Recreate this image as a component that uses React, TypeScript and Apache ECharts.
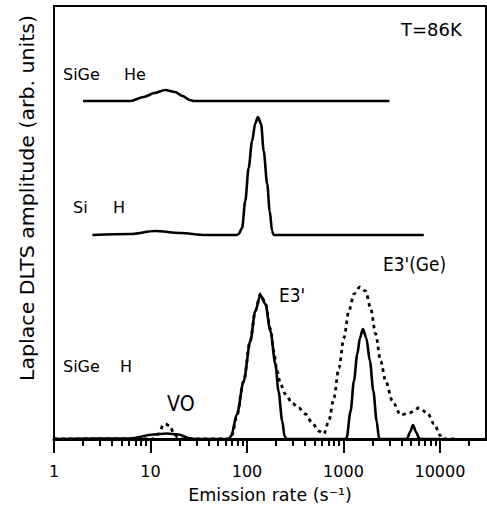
import React, { useEffect, useRef } from "react";
import * as echarts from "echarts";

// Major / minor tick positions on the log emission-rate axis
const xMajorTicks = [1, 10, 100, 1000, 10000];
const xMinorTicks = [
  2, 3, 4, 5, 6, 7, 8, 9,
  20, 30, 40, 50, 60, 70, 80, 90,
  200, 300, 400, 500, 600, 700, 800, 900,
  2000, 3000, 4000, 5000, 6000, 7000, 8000, 9000,
  20000,
];
const xMin = 1;
const xMax = 30000;

// SiGe H (solid): [emission rate, amplitude]
const sigeHSolid: [number, number][] = [
  [1, 0], [6.2, 0.5], [10.7, 4.5], [14.8, 5.5], [19.5, 4.5], [25.8, 0.5], [30, 0],
  [65, 0], [68.4, 3], [78.9, 25], [92.4, 58], [108.4, 98], [122, 128], [137.8, 144],
  [155, 135], [175, 108], [197, 75], [212, 48], [232, 18], [245, 3], [255, 0],
  [1050, 0], [1077, 1], [1186, 28], [1283, 58], [1391, 85], [1481, 101], [1590, 110],
  [1724, 101], [1880, 78], [2039, 48], [2207, 18], [2333, 1], [2400, 0],
  [4500, 0], [4594, 1], [4900, 7], [5257, 14], [5650, 7], [6070, 1], [6200, 0],
  [10000, 0],
];

// SiGe H (dotted)
const sigeHDotted: [number, number][] = [
  [1, 0], [11, 0], [12.1, 5], [13.6, 14], [14.2, 15], [16, 13], [17.3, 6], [19, 2], [21, 0],
  [66, 0], [70, 4], [78, 22], [92, 57], [108, 98], [122, 128], [137.8, 145], [155, 136],
  [175, 110], [189, 88], [205, 68], [222, 55], [250, 45], [294, 36], [344, 31], [404, 25],
  [474, 16], [555, 8], [626, 5], [705, 18], [795, 41], [896, 71], [1010, 101], [1138, 128],
  [1283, 145], [1481, 152], [1695, 148], [1910, 131], [2154, 105], [2428, 78], [2737, 58],
  [3212, 38], [3918, 24], [4777, 26], [6070, 31], [7420, 26], [8680, 15], [10190, 3],
  [10500, 0], [15000, 0],
];

// Si H (offset trace)
const siH: [number, number][] = [
  [2.5, 204], [6.2, 205], [11.2, 208], [20.3, 206], [37, 204], [78, 204], [82, 205],
  [89, 211], [96, 238], [104, 271], [113, 298], [122, 316], [130, 322], [140, 315],
  [149, 288], [162, 255], [172, 228], [182, 208], [189, 204], [6800, 204],
];

// SiGe He (offset trace)
const sigeHe: [number, number][] = [
  [2.0, 338], [6.2, 338], [8.5, 342], [11, 346], [14.2, 349], [18, 347], [21.5, 343],
  [25.5, 339], [28, 338], [3000, 338],
];

const FONT = "DejaVu Sans";

export default function App() {
  const ref = useRef<HTMLDivElement>(null);

  useEffect(() => {
    if (!ref.current) return;
    const chart = echarts.init(ref.current, undefined, { renderer: "svg" });

    const txt = (text: string, x: number, y: number, size: number, sy = 1) => ({
      type: "text",
      x,
      y,
      scaleY: sy,
      style: {
        text,
        fontFamily: FONT,
        fontSize: size,
        fill: "#000",
        textAlign: "left",
        textVerticalAlign: "middle",
      },
    });

    const lineSeries = (name: string, data: [number, number][], dotted: boolean) => ({
      name,
      type: "line",
      data,
      xAxisIndex: 0,
      yAxisIndex: 0,
      showSymbol: false,
      symbol: "none",
      smooth: 0.3,
      smoothMonotone: "x",
      lineStyle: {
        color: "#000",
        width: dotted ? 2.8 : 2.6,
        type: dotted ? [3.5, 4] : "solid",
        cap: "butt",
      },
    });

    // hidden companion axes (in decades) that only carry the tick marks
    const tickAxis = (values: number[], len: number) => ({
      type: "value",
      gridIndex: 0,
      position: "bottom",
      min: Math.log10(xMin),
      max: Math.log10(xMax),
      axisLine: { show: false },
      axisLabel: { show: false },
      splitLine: { show: false },
      axisTick: {
        show: true,
        customValues: values.map((v) => Math.log10(v)),
        length: len,
        lineStyle: { color: "#000", width: 2 },
      },
    });

    chart.setOption({
      animation: false,
      grid: {
        left: 54,
        right: 1,
        top: 6,
        bottom: 77,
        show: true,
        borderColor: "#000",
        borderWidth: 2,
        backgroundColor: "transparent",
      },
      xAxis: [
        {
          type: "log",
          logBase: 10,
          min: xMin,
          max: xMax,
          position: "bottom",
          axisLine: { show: true, lineStyle: { color: "#000", width: 3 } },
          axisTick: { show: false },
          axisLabel: {
            customValues: xMajorTicks,
            formatter: (v: number) => String(Math.round(v)),
            fontSize: 16,
            fontFamily: FONT,
            color: "#000",
            margin: 24,
          },
          splitLine: { show: false },
          minorTick: { show: false },
          minorSplitLine: { show: false },
          name: "Emission rate (s\u207B\u00B9)",
          nameLocation: "middle",
          nameGap: 47,
          nameTextStyle: { fontSize: 17.5, fontFamily: FONT, color: "#000" },
        },
        tickAxis(xMajorTicks, 14),
        tickAxis(xMinorTicks, 7),
      ],
      yAxis: {
        type: "value",
        min: 0,
        max: 433,
        axisLine: { show: true, lineStyle: { color: "#000", width: 2 } },
        axisTick: { show: false },
        axisLabel: { show: false },
        splitLine: { show: false },
      },
      graphic: [
        {
          type: "text",
          x: 28,
          y: 198,
          rotation: Math.PI / 2,
          scaleX: 1.08,
          style: {
            text: "Laplace DLTS amplitude (arb. units)",
            fontFamily: FONT,
            fontSize: 19,
            fill: "#000",
            textAlign: "center",
            textVerticalAlign: "middle",
          },
        },
        txt("T=86K", 401, 29, 18),
        txt("SiGe", 63, 74, 16),
        txt("He", 124, 74, 16),
        txt("Si", 73, 207, 16),
        txt("H", 113, 207, 16),
        txt("SiGe", 63, 366, 16),
        txt("H", 120, 366, 16),
        txt("VO", 167, 404, 19, 1.08),
        txt("E3'", 279, 295, 17, 1.1),
        txt("E3'(Ge)", 383, 264, 17, 1.1),
      ],
      series: [
        lineSeries("SiGe H dotted", sigeHDotted, true),
        lineSeries("SiGe H", sigeHSolid, false),
        lineSeries("Si H", siH, false),
        lineSeries("SiGe He", sigeHe, false),
      ],
    });

    return () => chart.dispose();
  }, []);

  return <div ref={ref} style={{ width: 487, height: 516, position: "absolute", left: 0, top: 0 }} />;
}
